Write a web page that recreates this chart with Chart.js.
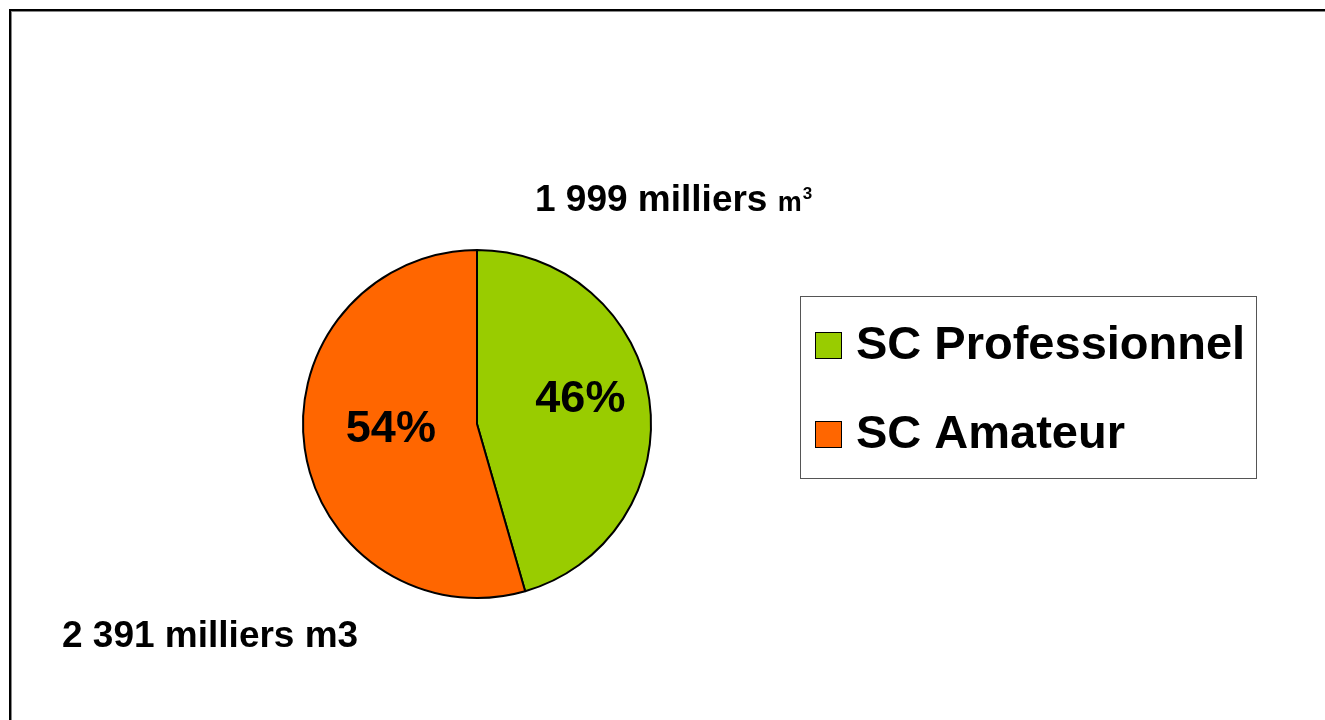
<!DOCTYPE html>
<html>
<head>
<meta charset="utf-8">
<style>
  html, body { margin: 0; padding: 0; background: #fff; }
  #wrap { width: 1325px; height: 720px; }
</style>
<script src="https://cdn.jsdelivr.net/npm/chart.js@4/dist/chart.umd.min.js"></script>
</head>
<body>
<div id="wrap"><canvas id="pieChart" width="1325" height="720"></canvas></div>
<script>
// values (milliers m3)
const categories = ['SC Professionnel', 'SC Amateur'];
const volumes = [1999, 2391];
const volumeLabels = ['1 999 milliers m', '2 391 milliers m3'];
const sliceColors = ['#99CC00', '#FF6600'];

const FONT = '"Liberation Sans", Arial, sans-serif';

// outer frame
const framePlugin = {
    id: 'frame',
    beforeDraw(chart) {
        const ctx = chart.ctx;
        ctx.save();
        ctx.fillStyle = '#fff';
        ctx.fillRect(0, 0, chart.width, chart.height);
        ctx.strokeStyle = '#000';
        ctx.lineWidth = 2;
        ctx.strokeRect(10, 10, chart.width + 20, chart.height + 20);
        ctx.strokeStyle = '#888';
        ctx.lineWidth = 1;
        ctx.strokeRect(11.5, 11.5, chart.width + 20, chart.height + 20);
        ctx.restore();
    }
};

// percentages inside slices + volume labels outside
const labelPlugin = {
    id: 'sliceLabels',
    afterDatasetsDraw(chart) {
        const ctx = chart.ctx;
        const meta = chart.getDatasetMeta(0);
        const total = volumes.reduce((s, v) => s + v, 0);
        ctx.save();
        ctx.fillStyle = '#000';
        meta.data.forEach((arc, i) => {
            const mid = (arc.startAngle + arc.endAngle) / 2;
            const r = arc.outerRadius * (i === 0 ? 0.6 : 0.5);
            const adj = i === 0 ? -10 : -7;
            const x = arc.x + Math.cos(mid) * r;
            const y = arc.y + Math.sin(mid) * r + adj;
            ctx.font = 'bold 45px ' + FONT;
            ctx.textAlign = 'center';
            ctx.textBaseline = 'middle';
            ctx.fillText(Math.round(volumes[i] / total * 100) + '%', x, y);
        });

        const arc = meta.data[0];
        const R = arc.outerRadius;
        // top label with superscript
        ctx.textAlign = 'left';
        ctx.textBaseline = 'alphabetic';
        let x = arc.x + 58, y = arc.y - R - 39;
        ctx.font = 'bold 37px ' + FONT;
        const main = volumeLabels[0].slice(0, -1);
        ctx.fillText(main, x, y);
        x += ctx.measureText(main).width;
        ctx.font = 'bold 27px ' + FONT;
        ctx.fillText('m', x, y);
        x += ctx.measureText('m').width + 1;
        ctx.font = 'bold 17px ' + FONT;
        ctx.fillText('3', x, y - 12);
        // bottom label
        ctx.font = 'bold 37px ' + FONT;
        ctx.fillText(volumeLabels[1], arc.x - 415, arc.y + R + 49);
        ctx.restore();
    }
};

// boxed legend on the right
const legendPlugin = {
    id: 'boxLegend',
    afterDraw(chart) {
        const ctx = chart.ctx;
        const bx = 800, by = 296, bw = 456, bh = 182;
        ctx.save();
        ctx.strokeStyle = '#555';
        ctx.lineWidth = 1;
        ctx.strokeRect(bx + 0.5, by + 0.5, bw, bh);
        categories.forEach((name, i) => {
            const cy = by + 49 + i * 89;
            ctx.fillStyle = sliceColors[i];
            ctx.fillRect(815, cy - 13, 27, 27);
            ctx.strokeStyle = '#000';
            ctx.strokeRect(815.5, cy - 12.5, 26, 26);
            ctx.fillStyle = '#000';
            ctx.font = 'bold 47px ' + FONT;
            ctx.textAlign = 'left';
            ctx.textBaseline = 'middle';
            ctx.fillText(name, 856, cy + 1);
        });
        ctx.restore();
    }
};

new Chart(document.getElementById('pieChart'), {
    type: 'pie',
    data: {
        labels: categories,
        datasets: [{
            data: volumes,
            backgroundColor: sliceColors,
            borderColor: '#000',
            borderWidth: 2,
            radius: 174
        }]
    },
    options: {
        responsive: false,
        devicePixelRatio: 1,
        animation: false,
        layout: { padding: { left: 302, right: 673, top: 249, bottom: 121 } },
        plugins: {
            legend: { display: false },
            tooltip: { enabled: false }
        }
    },
    plugins: [framePlugin, labelPlugin, legendPlugin]
});
</script>
</body>
</html>
